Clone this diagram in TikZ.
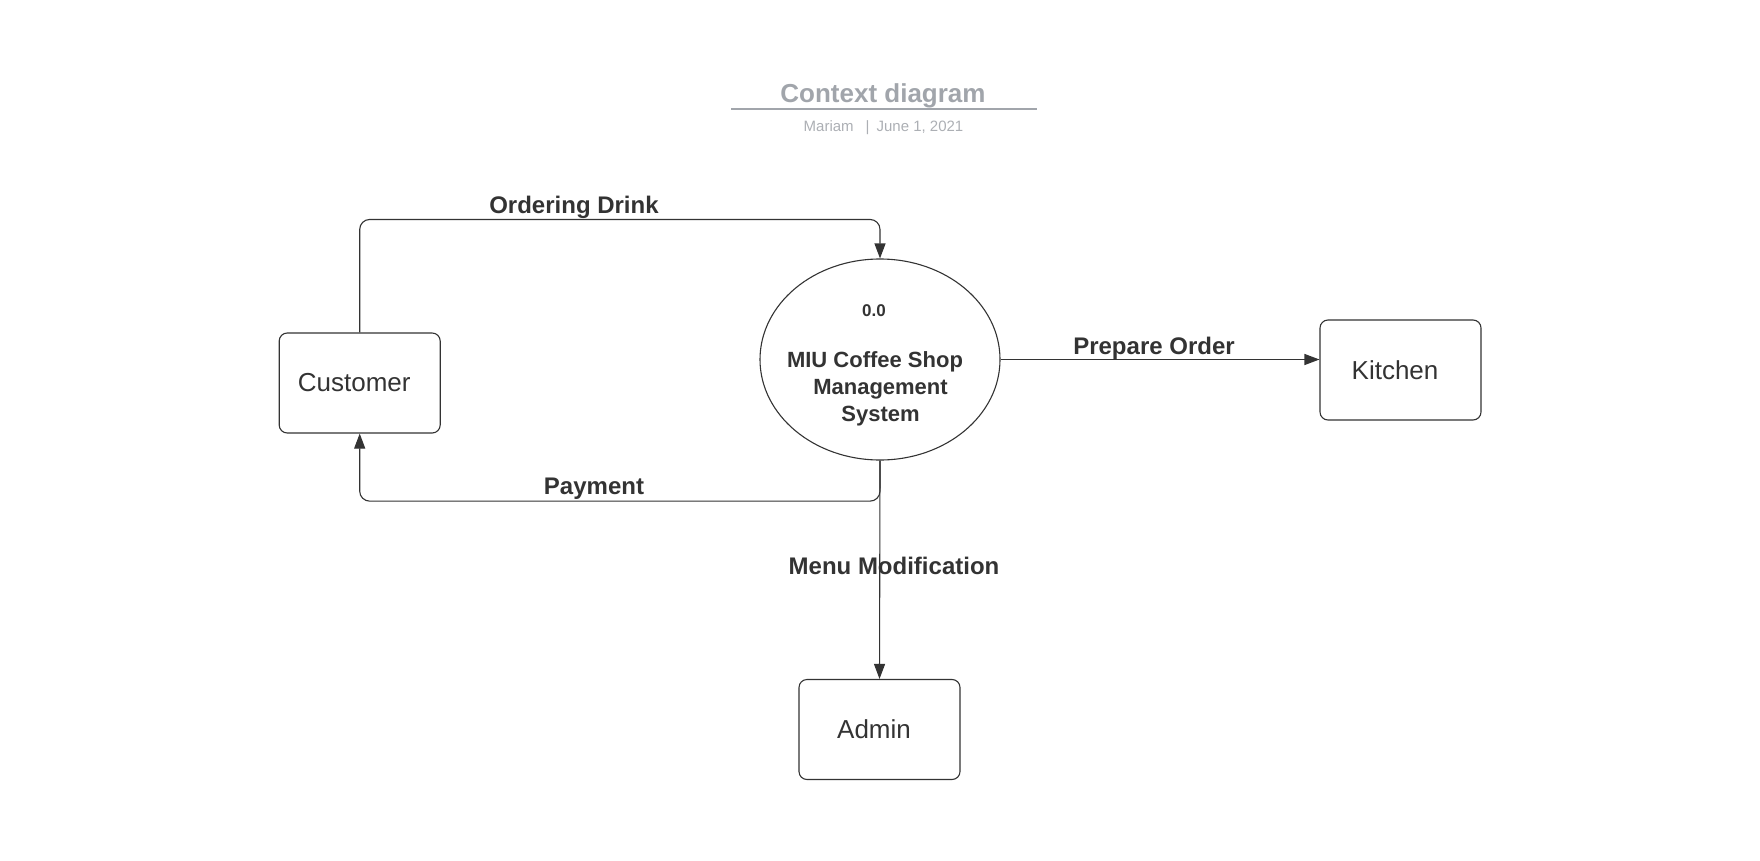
\documentclass[tikz,border=0pt]{standalone}
\usepackage{fontspec}
\setmainfont{Liberation Sans}
\usetikzlibrary{shapes.geometric}
\usetikzlibrary{arrows.meta}
\definecolor{gray1}{RGB}{51,51,51}
\definecolor{gray2}{RGB}{161,165,171}
\definecolor{gray3}{RGB}{172,175,180}
\tikzset{
	entity/.style={draw=gray1,line width=1.1pt,rounded corners=8pt,minimum width=161pt,minimum height=100pt,inner sep=0pt,text=gray1,font=\fontsize{26}{30}\selectfont,execute at begin node={\hspace*{-11pt}}},
	process/.style={ellipse,draw=gray1,line width=1.1pt,minimum width=240pt,minimum height=201pt,inner sep=0pt},
	flow/.style={draw=gray1,line width=1.1pt,rounded corners=10pt,-{Triangle[length=15pt,width=11pt]}},
	flowlabel/.style={text=gray1,inner sep=0pt,font=\bfseries\fontsize{24}{28}\selectfont},
}

\begin{document}
\begin{tikzpicture}[x=1pt,y=-1pt]

	\useasboundingbox (0,0) rectangle (1760,861);

	%%% Title and subtitle
	\node[gray2,font=\bfseries\fontsize{26}{30}\selectfont] (title) at (883,95.5) {Context diagram};
	\draw[gray2,line width=1.5pt] (731,109) -- (1037,109);
	\node[gray3,font=\fontsize{15}{18}\selectfont] (subtitle) at (883.5,127.5) {Mariam\hspace{12pt}|\hspace{7pt}June 1, 2021};

	%%% External entities
	\node[entity] (customer) at (359.7,383) {Customer};
	\node[entity] (kitchen) at (1400.5,370) {Kitchen};
	\node[entity] (admin) at (879.5,729.5) {Admin};

	%%% Process
	\node[process] (sys) at (880,359.5) {};
	\node[flowlabel,font=\bfseries\fontsize{17}{20}\selectfont] (sysid) at (874,310.5) {0.0};
	\node[flowlabel,align=center,font=\bfseries\fontsize{22}{27}\selectfont] (sysname) at (875,388.5) {MIU Coffee Shop\\\hspace*{11pt}Management\\\hspace*{11pt}System};

	%%% Data flows
	\draw[flow] (customer.north) |- ([yshift=39pt]sys.north) -- (sys.north);
	\draw[flow] (sys.south) -- ([yshift=-40.6pt]sys.south) -| (customer.south);
	\draw[flow] (sys.south) -- (admin.north);
	\draw[flow] (sys.east) -- (sys.east -| kitchen.west);

	%%% Flow labels
	\node[flowlabel] (ordering) at (574,207.5) {Ordering Drink};
	\node[flowlabel] (payment) at (594,488.5) {Payment};
	\node[flowlabel] (menumod) at (894,566) {Menu Modification};
	\node[flowlabel] (prepare) at (1154,348.5) {Prepare Order};

\end{tikzpicture}
\end{document}
